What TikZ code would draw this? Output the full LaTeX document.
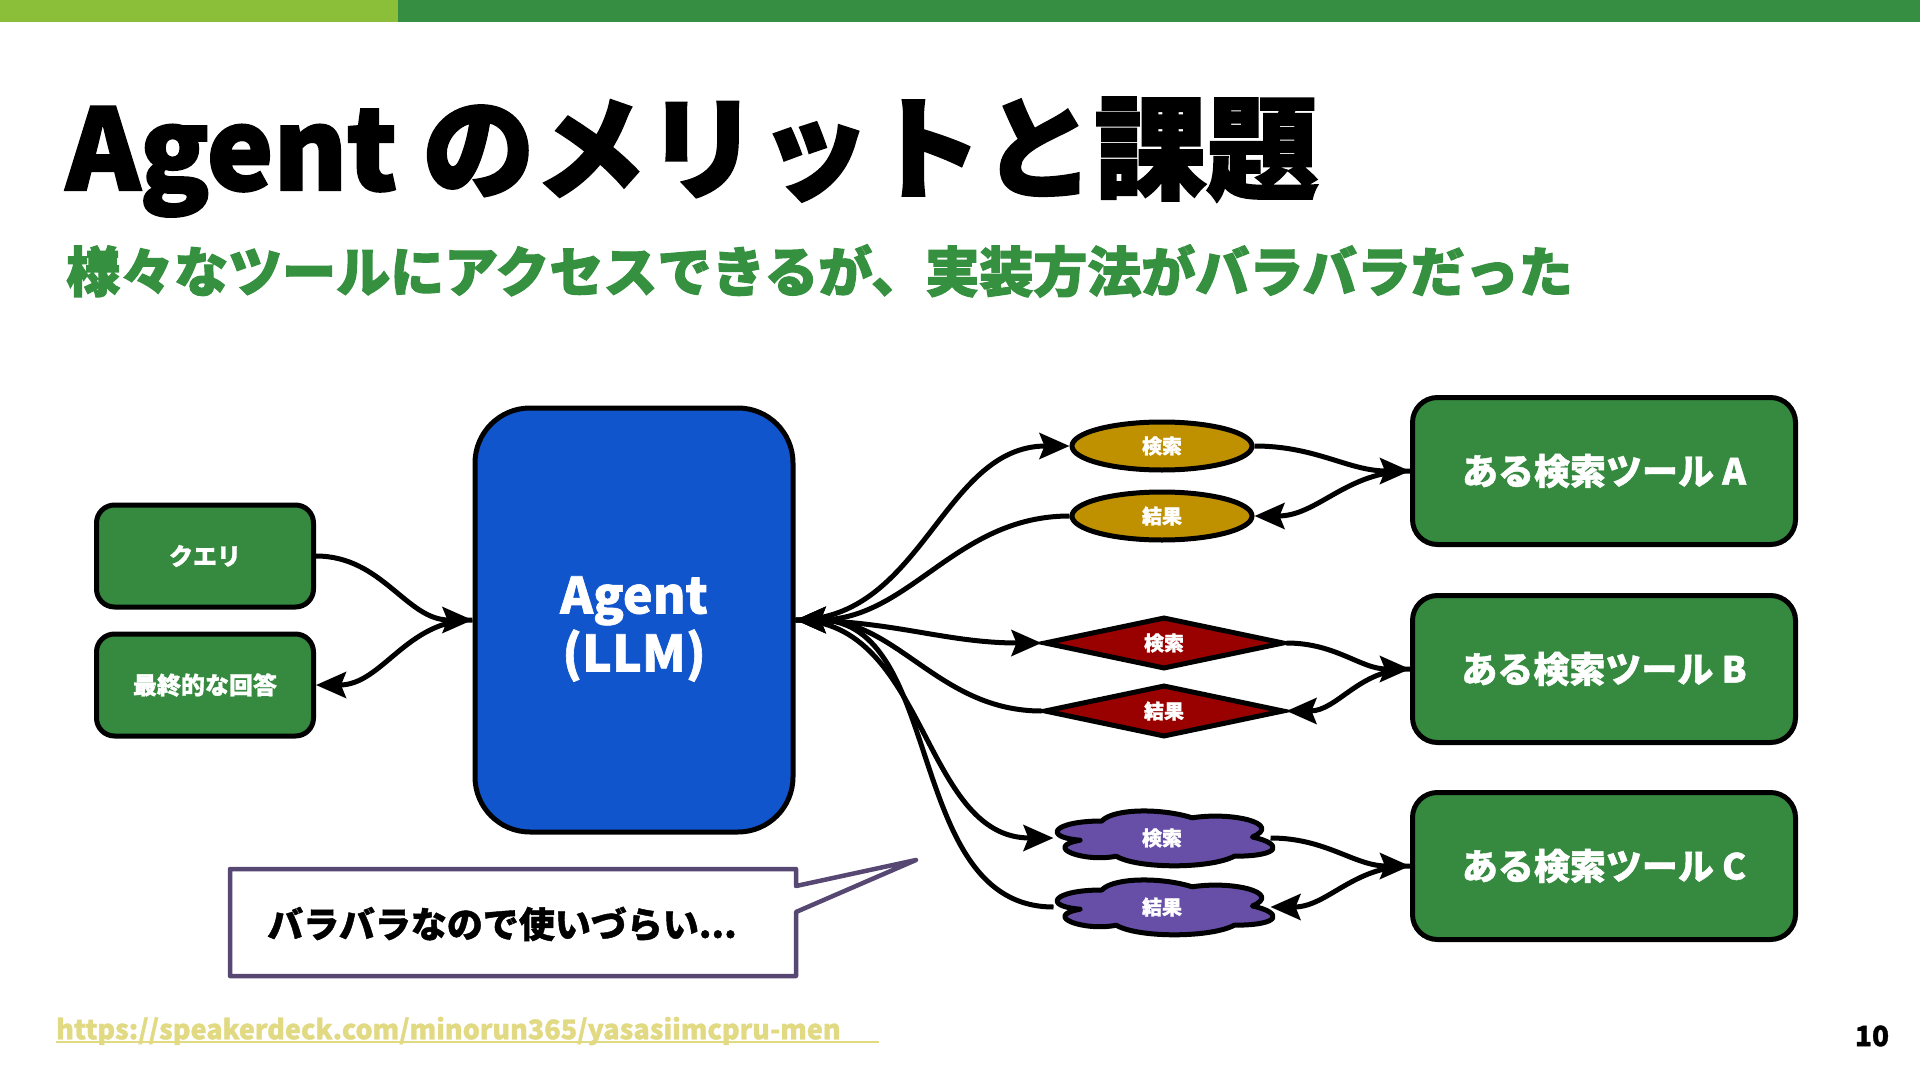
\documentclass[tikz,border=0pt]{standalone}
\usepackage{fontspec}
\setmainfont{Noto Sans CJK JP}[BoldFeatures={FakeBold=1.2}]
\newfontfamily\heavyfont{Noto Sans CJK JP}[BoldFeatures={FakeBold=2.2}]
\usetikzlibrary{shapes.geometric,arrows.meta}
\definecolor{barlight}{HTML}{8BBF3A}
\definecolor{bardark}{HTML}{368E43}
\definecolor{boxgreen}{HTML}{368A40}
\definecolor{subgreen}{HTML}{35903F}
\definecolor{agentblue}{HTML}{1155CC}
\definecolor{gold}{HTML}{BF9000}
\definecolor{darkred}{HTML}{990000}
\definecolor{cloudpurple}{HTML}{674EA7}
\definecolor{callborder}{HTML}{564872}
\definecolor{urlcolor}{HTML}{E2D983}
\tikzset{
  greenbox/.style={draw=black, line width=5pt, fill=boxgreen, rounded corners=18pt, text=white,
    font=\bfseries\fontsize{24}{28}\selectfont, minimum width=217pt, minimum height=102pt, inner sep=0pt},
  toolbox/.style={draw=black, line width=5pt, fill=boxgreen, rounded corners=25pt, text=white,
    font=\bfseries\fontsize{36}{40}\selectfont, minimum width=383pt, minimum height=147pt, inner sep=0pt},
  agentbox/.style={draw=black, line width=5pt, fill=agentblue, rounded corners=55pt,
    minimum width=318pt, minimum height=424pt, inner sep=0pt},
  agenttext/.style={text=white, align=center, inner sep=0pt, font=\bfseries\fontsize{50}{58}\selectfont},
  lbl/.style={text=white, font=\bfseries\fontsize{20}{24}\selectfont, inner sep=0pt, line width=5pt},
  ellnode/.style={lbl, draw=black, ellipse, fill=gold, minimum width=180pt, minimum height=48pt},
  dianode/.style={lbl, draw=black, diamond, aspect=4.5, fill=darkred, minimum width=240pt, minimum height=52pt},
  cloudnode/.style={lbl, ellipse, minimum width=212pt, minimum height=54pt},
  cloudshape/.style={draw=black, line width=5pt, fill=cloudpurple, line join=round},
  conn/.style={draw=black, line width=5pt, -{Stealth[length=30pt,width=26pt,inset=5pt]}}
}
\newcommand{\drawcloudat}[1]{%
  \begin{scope}[shift={(#1)}]
    \path[cloudshape] (-60.25,-16) .. controls (-108.45,-16) and (-120.5,0) .. (-81.94,3.2)
      .. controls (-120.5,10.24) and (-77.38,25.6) .. (-45.79,19.2)
      .. controls (-24.1,32) and (48.2,32) .. (72.3,19.2)
      .. controls (120.5,19.2) and (120.5,6.4) .. (90.375,0)
      .. controls (120.5,-12.8) and (72.3,-25.6) .. (30.125,-19.2)
      .. controls (0,-28.8) and (-48.2,-28.8) .. (-60.25,-16) -- cycle;
  \end{scope}}
\begin{document}
\begin{tikzpicture}[x=1pt,y=-1pt]
\useasboundingbox (0,0) rectangle (1920,1081);
\fill[white] (0,0) rectangle (1920,1081);
\fill[barlight] (0,0) rectangle (398,22);
\fill[bardark] (398,0) rectangle (1920,22);

\node[anchor=base west, inner sep=0pt, font=\heavyfont\bfseries\fontsize{112}{124}\selectfont] (title) at (66,190) {Agent のメリットと課題};
\node[anchor=west, inner sep=0pt, text=subgreen, font=\heavyfont\bfseries\fontsize{54}{60}\selectfont] (subtitle) at (66,271) {様々なツールにアクセスできるが、実装方法がバラバラだった};

\node[greenbox] (query) at (205,556) {クエリ};
\node[greenbox] (answer) at (205,685) {最終的な回答};
\node[agentbox] (agent) at (634,620) {};
\node[agenttext] (agentlbl) at (634,629) {Agent\\(LLM)};

\node[toolbox] (toolA) at (1604,471) {ある検索ツール A};
\node[toolbox] (toolB) at (1604,669) {ある検索ツール B};
\node[toolbox] (toolC) at (1604,866) {ある検索ツール C};

\node[ellnode] (sA) at (1162,446) {検索};
\node[ellnode] (rA) at (1162,516) {結果};
\node[dianode] (sB) at (1164,643) {検索};
\node[dianode] (rB) at (1164,711) {結果};
\drawcloudat{1162,837}
\drawcloudat{1162,906}
\node[cloudnode] (sC) at (1162,838) {検索};
\node[cloudnode] (rC) at (1162,907) {結果};

\draw[conn] (query.east) to[out=0,in=180] (agent.west);
\draw[conn] (agent.west) to[out=180,in=0] (answer.east);

\draw[conn] (agent.east) to[out=0,in=180] (sA.west);
\draw[conn] (rA.west) to[out=180,in=0] (agent.east);
\draw[conn] (agent.east) to[out=0,in=180] (sB.west);
\draw[conn] (rB.west) to[out=180,in=0] (agent.east);
\draw[conn] (agent.east) to[out=0,in=180] (sC.west);
\draw[conn] (rC.west) to[out=180,in=0] (agent.east);

\draw[conn] (sA.east) to[out=0,in=180] (toolA.west);
\draw[conn] (toolA.west) to[out=180,in=0] (rA.east);
\draw[conn] (sB.east) to[out=0,in=180] (toolB.west);
\draw[conn] (toolB.west) to[out=180,in=0] (rB.east);
\draw[conn] (sC.east) to[out=0,in=180] (toolC.west);
\draw[conn] (toolC.west) to[out=180,in=0] (rC.east);

\draw[callborder, line width=4.5pt, fill=white, line join=round]
  (230,869) -- (796,869) -- (796,886) -- (916,860) -- (796,912) -- (796,976) -- (230,976) -- cycle;
\node[inner sep=0pt, font=\bfseries\fontsize{36}{40}\selectfont] (note) at (502,924) {バラバラなので使いづらい...};

\node[anchor=west, inner sep=0pt, text=urlcolor, font=\bfseries\fontsize{27}{30}\selectfont] (url) at (56,1031) {https://speakerdeck.com/minorun365/yasasiimcpru-men};
\coordinate (ulA) at (56,1042);
\coordinate (ulB) at (879,1042);
\draw[urlcolor, line width=2.5pt] (ulA) -- (ulB);
\node[inner sep=0pt, font=\bfseries\fontsize{28}{32}\selectfont] (page) at (1872,1036) {10};
\end{tikzpicture}
\end{document}
